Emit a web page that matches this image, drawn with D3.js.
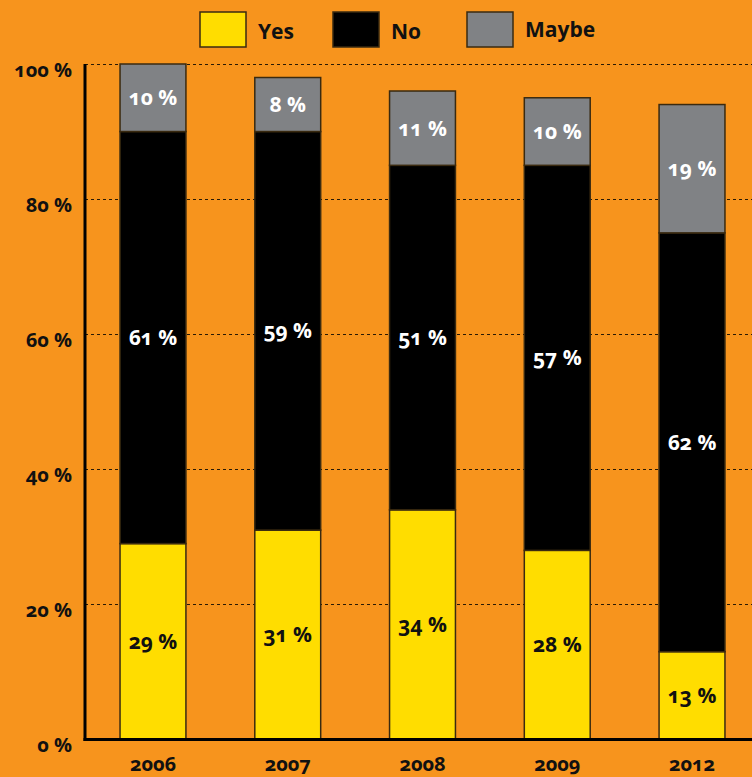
<!DOCTYPE html>
<html>
<head>
<meta charset="utf-8">
<script src="https://cdn.jsdelivr.net/npm/d3@7"></script>
<style>
  html, body { margin: 0; padding: 0; background: #F7941D; }
  svg { display: block; }
  text { font-family: "Open Sans", "Noto Sans", sans-serif; font-weight: 700; font-feature-settings: "onum" 1; }
</style>
</head>
<body>
<svg id="chart" width="752" height="777"></svg>
<script>
// Survey answers per year, in percent
const years = ["2006", "2007", "2008", "2009", "2012"];
const yesValues = [29, 31, 34, 28, 13];
const noValues = [61, 59, 51, 57, 62];
const maybeValues = [10, 8, 11, 10, 19];
const seriesNames = ["Yes", "No", "Maybe"];
const yTicks = [0, 20, 40, 60, 80, 100];

const colors = { Yes: "#FFDD00", No: "#000000", Maybe: "#808285" };
const labelColors = { Yes: "#111", No: "#fff", Maybe: "#fff" };

const rows = years.map((y, i) => ({ year: y, Yes: yesValues[i], No: noValues[i], Maybe: maybeValues[i] }));
const stacked = d3.stack().keys(seriesNames)(rows);

const svg = d3.select("#chart");
const W = 752;
const x0 = 85, yTop = 64, yBottom = 739.5;

const x = d3.scaleBand().domain(years).range([x0, x0 + 675]).paddingInner(0.511).paddingOuter(0.26);
const y = d3.scaleLinear().domain([0, 100]).range([yBottom, yTop]);

// dashed gridlines
svg.append("g").selectAll("line").data(yTicks.filter(t => t > 0)).join("line")
  .attr("x1", x0).attr("x2", W)
  .attr("y1", d => Math.round(y(d)) + 0.5).attr("y2", d => Math.round(y(d)) + 0.5)
  .attr("stroke", "#2a1a05").attr("stroke-width", 1).attr("stroke-dasharray", "3,3");

// stacked bars
const layers = svg.append("g").selectAll("g").data(stacked).join("g")
  .attr("fill", d => colors[d.key]);
layers.selectAll("rect").data(d => d).join("rect")
  .attr("x", d => x(d.data.year))
  .attr("width", x.bandwidth())
  .attr("y", d => y(d[1]))
  .attr("height", d => y(d[0]) - y(d[1]))
  .attr("stroke", "#3a2a10").attr("stroke-width", 1.5);

// segment value labels
stacked.forEach(layer => {
  svg.append("g").selectAll("text").data(layer).join("text")
    .attr("x", d => x(d.data.year) + x.bandwidth() / 2)
    .attr("y", d => (y(d[0]) + y(d[1])) / 2)
    .attr("dy", "0.35em")
    .attr("text-anchor", "middle")
    .attr("font-size", 21)
    .attr("fill", labelColors[layer.key])
    .text(d => (d[1] - d[0]) + " %");
});

// y axis
const yAxis = d3.axisLeft(y).tickValues(yTicks).tickSize(0).tickPadding(13).tickFormat(d => d + " %");
const gy = svg.append("g").attr("transform", `translate(${x0},0)`).call(yAxis);
gy.select(".domain").remove();
gy.selectAll("text").attr("font-size", 20).attr("fill", "#111").attr("dy", "0.6em")
  .attr("font-family", "'Open Sans', sans-serif");

// x axis
const xAxis = d3.axisBottom(x).tickSize(0).tickPadding(17);
const gx = svg.append("g").attr("transform", `translate(0,${yBottom})`).call(xAxis);
gx.select(".domain").remove();
gx.selectAll("text").attr("font-size", 20).attr("fill", "#111")
  .attr("font-family", "'Open Sans', sans-serif");

// axis lines
svg.append("line").attr("x1", x0).attr("x2", x0).attr("y1", yTop).attr("y2", yBottom + 1.5)
  .attr("stroke", "#000").attr("stroke-width", 3);
svg.append("line").attr("x1", x0 - 1.5).attr("x2", W).attr("y1", yBottom).attr("y2", yBottom)
  .attr("stroke", "#000").attr("stroke-width", 3);

// legend
const legendX = [200, 333, 467];
const legend = svg.append("g").selectAll("g").data(seriesNames).join("g")
  .attr("transform", (d, i) => `translate(${legendX[i]},12)`);
legend.append("rect").attr("width", 46).attr("height", 35)
  .attr("fill", d => colors[d]).attr("stroke", "#3a2a10").attr("stroke-width", 1.5);
legend.append("text").attr("x", 58).attr("y", (d, i) => i === 2 ? 25 : 27)
  .attr("font-size", 21).attr("fill", "#111").text(d => d);
</script>
</body>
</html>
